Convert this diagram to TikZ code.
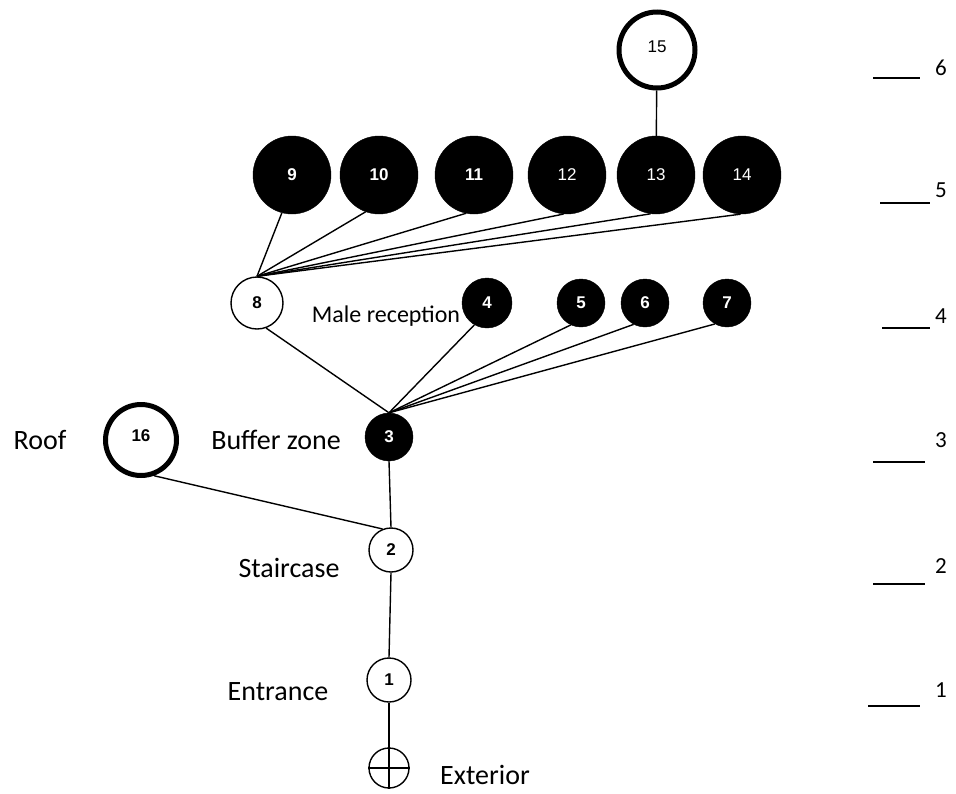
\documentclass[tikz,border=0pt]{standalone}
\usepackage{fontspec}
\setmainfont{Carlito}
\newfontfamily\numfont{Liberation Sans}
\begin{document}
\begin{tikzpicture}[x=1pt,y=-1pt,
  lbl/.style={font=\fontsize{28}{30}\selectfont, inner sep=0pt, anchor=center},
  smalllbl/.style={font=\fontsize{24}{26}\selectfont, inner sep=0pt, anchor=center},
  lvl/.style={font=\fontsize{23}{25}\selectfont, inner sep=0pt},
  link/.style={line width=1.4pt},
  space/.style={circle, inner sep=0pt, font=\numfont\bfseries\fontsize{17}{18}\selectfont},
  bigdot/.style={space, fill=black, draw=black, text=white, minimum size=78pt},
  bigdotr/.style={bigdot, font=\numfont\fontsize{17}{18}\selectfont},
  dot/.style={space, fill=black, draw=black, text=white, minimum size=48pt},
  open/.style={space, draw=black, line width=1.4pt, minimum size=44pt},
  ring/.style={space, draw=black, line width=5pt},
]
\useasboundingbox (0,0) rectangle (956,793);

% level 6
\node[ring, minimum size=76pt, font=\numfont\fontsize{17}{18}\selectfont] (n15) at (657,50) {\raisebox{6pt}{15}};

% level 5
\node[bigdot]  (n9)  at (292,175) {9};
\node[bigdot]  (n10) at (379,175) {10};
\node[bigdot]  (n11) at (474,175) {11};
\node[bigdotr] (n12) at (567,175) {12};
\node[bigdotr] (n13) at (656,175) {13};
\node[bigdotr] (n14) at (742,175) {14};

% level 4
\node[open, minimum size=52pt] (n8) at (257,303) {8};
\node[dot, minimum size=50pt] (n4) at (487,303) {4};
\node[dot] (n5) at (581,303) {5};
\node[dot] (n6) at (645,303) {6};
\node[dot] (n7) at (727,303) {7};
\node[smalllbl] (tmale) at (386,316) {Male reception};

% level 3
\node[dot] (n3) at (389,437) {3};
\node[lbl] (tbuf) at (276,440) {Buffer zone};
\node[ring, minimum size=71pt] (n16) at (141,440) {\raisebox{8pt}{16}};
\node[lbl] (troof) at (40,440) {Roof};

% level 2
\node[open] (n2) at (391,550) {2};
\node[lbl] (tstair) at (289,568) {Staircase};

% level 1
\node[open] (n1) at (389,680) {1};
\node[lbl] (tent) at (278,692) {Entrance};

% exterior
\node[circle, draw=black, line width=1.4pt, minimum size=40pt, inner sep=0pt] (ext) at (389,768) {};
\draw[line width=1.4pt] (ext.west) -- (ext.east);
\draw[line width=1.4pt] (ext.north) -- (ext.south);
\node[lbl] (text) at (485,775) {Exterior};

% connectors
\draw[link] (n15) -- (n13);
\draw[link] (n8.north) -- (n9.255);
\draw[link] (n8.north) -- (n10.250);
\draw[link] (n8.north) -- (n11.258);
\draw[link] (n8.north) -- (n12.265);
\draw[link] (n8.north) -- (n13.262);
\draw[link] (n8.north) -- (n14.268);
\draw[link] (n8.290) -- (n3.north);
\draw[link] (n4.240) -- (n3.north);
\draw[link] (n5.245) -- (n3.north);
\draw[link] (n6.242) -- (n3.north);
\draw[link] (n7.240) -- (n3.north);
\draw[link] (n3.south) -- (n2.north);
\draw[link] (n16.290) -- (n2.112);
\draw[link] (n2.south) -- (n1.north);
\draw[line width=1.4pt] (n1.south) -- (ext.north);

% level scale
\draw[link] (873,78) -- (920,78);   \node[lvl] (l6) at (941,68) {6};
\draw[link] (880,203) -- (930,203); \node[lvl] (l5) at (941,190) {5};
\draw[link] (882,328) -- (930,328); \node[lvl] (l4) at (941,316) {4};
\draw[link] (873,462) -- (925,462); \node[lvl] (l3) at (941,440) {3};
\draw[link] (873,584) -- (925,584); \node[lvl] (l2) at (941,566) {2};
\draw[link] (868,706) -- (920,706); \node[lvl] (l1) at (941,690) {1};
\end{tikzpicture}
\end{document}
